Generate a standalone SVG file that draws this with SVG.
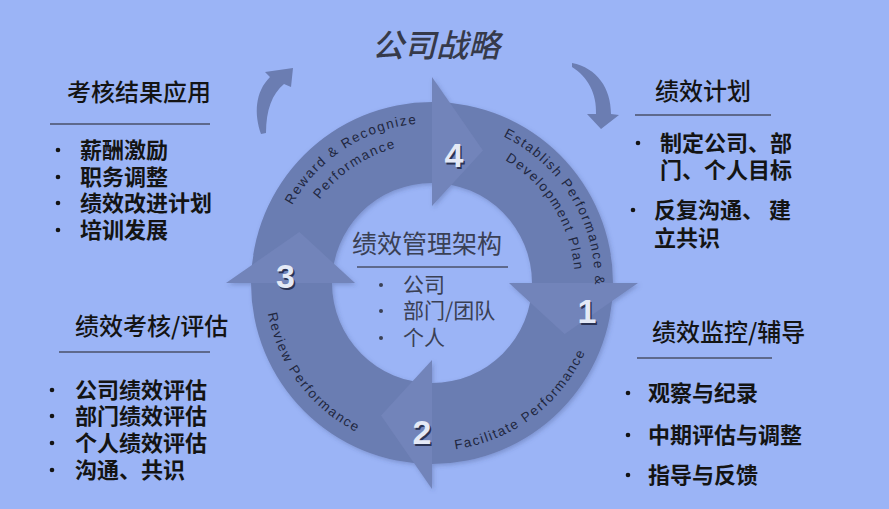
<svg xmlns="http://www.w3.org/2000/svg" width="889" height="509" viewBox="0 0 889 509">
<style>
.cjk{font-family:"Noto Sans CJK SC","Noto Sans CJK JP",sans-serif;fill:#141414}
.hd{font-size:24px;font-weight:500}
.it{font-size:22px;font-weight:700}
.ctr{fill:#3a4054}
.rule{stroke:#4a5068;stroke-width:1.5}
.dot{fill:#141414}
.seg{fill:#6b7db2}
.head{fill:#7284ba}
.lbl{font-family:"Liberation Sans",Arial,sans-serif;font-size:13.5px;letter-spacing:1.6px;fill:#1f2740}
.num{font-family:"Liberation Sans",Arial,sans-serif;font-size:34px;font-weight:700;text-anchor:middle}
.numsh{fill:#2a3354}
.numfg{fill:#e4e9f6}
.carrow{fill:#6b7db2}
</style>
<defs>
<filter id="sh" x="-10%" y="-10%" width="120%" height="120%">
<feDropShadow dx="1.5" dy="2" stdDeviation="2" flood-color="#34457a" flood-opacity="0.3"/>
</filter>
<path id="t4a" d="M279,236.2 A160,160 0 0 1 451.5,124.2"/>
<path id="t4b" d="M297.4,244.4 A140,140 0 0 1 446.6,143.8"/>
<path id="t1a" d="M483.7,128.4 A163,163 0 0 1 593.2,307.1"/>
<path id="t1b" d="M476.2,147 A143,143 0 0 1 573.6,302.9"/>
<path id="t2" d="M423.2,450.8 A168,168 0 0 0 595.7,320.8"/>
<path id="t3" d="M265.2,274.3 A167,167 0 0 0 394.4,445.7"/>
</defs>
<rect width="889" height="509" fill="#9bb4f6"/>

<g id="cycle" filter="url(#sh)">
<g id="seg2"><path class="seg" d="M613,283 A181,181 0 0 1 432,464 L432,383 A100,100 0 0 0 532,283 Z"/></g>
<g id="seg3"><path class="seg" d="M432,464 A181,181 0 0 1 251,283 L332,283 A100,100 0 0 0 432,383 Z"/></g>
<g id="seg4"><path class="seg" d="M251,283 A181,181 0 0 1 432,102 L432,183 A100,100 0 0 0 332,283 Z"/></g>
<g id="seg1"><path class="seg" d="M432,102 A181,181 0 0 1 613,283 L532,283 A100,100 0 0 0 432,183 Z"/></g>
<path class="head" d="M509,283 L638,283 L564.6,333.9 Z"/>
<path class="head" d="M432,360 L432,489 L381.1,415.6 Z"/>
<path class="head" d="M355,283 L226,283 L299.4,232.1 Z"/>
<path class="head" d="M432,206 L432,77 L482.9,150.4 Z"/>
</g>

<g id="cycle-labels">
<text class="lbl"><textPath href="#t4a" startOffset="50%" text-anchor="middle">Reward &amp; Recognize</textPath></text>
<text class="lbl"><textPath href="#t4b" startOffset="50%" text-anchor="middle">Performance</textPath></text>
<text class="lbl"><textPath href="#t1a" startOffset="50%" text-anchor="middle">Establish Performance &amp;</textPath></text>
<text class="lbl"><textPath href="#t1b" startOffset="50%" text-anchor="middle">Development Plan</textPath></text>
<text class="lbl"><textPath href="#t2" startOffset="50%" text-anchor="middle">Facilitate Performance</textPath></text>
<text class="lbl"><textPath href="#t3" startOffset="50%" text-anchor="middle">Review Performance</textPath></text>
</g>

<g id="numbers">
<text class="num numsh" x="455.5" y="168.5">4</text><text class="num numfg" x="454" y="167">4</text>
<text class="num numsh" x="588.5" y="324.5">1</text><text class="num numfg" x="587" y="323">1</text>
<text class="num numsh" x="423.5" y="445.5">2</text><text class="num numfg" x="422" y="444">2</text>
<text class="num numsh" x="287" y="289.5">3</text><text class="num numfg" x="285.5" y="288">3</text>
</g>

<g id="connectors">
<path class="carrow" d="M261,134 C254,114 255,92 270,77 L265,72 L293,68 L291,87 L284,84 C272,94 266,110 266,133 Z"/>
<path class="carrow" d="M572,63 C597,68 611,88 611,114 L619,115 L601,129 L587,114 L596,114 C597,94 588,77 572,67 Z"/>
</g>

<g id="title">
<text class="cjk" x="372" y="57" font-size="32" font-style="italic" font-weight="500" style="fill:#363a4a">公司战略</text>
</g>

<g id="center">
<text class="cjk ctr" x="352" y="253" font-size="25">绩效管理架构</text>
<line class="rule" x1="357" y1="267" x2="508" y2="267"/>
<circle cx="381" cy="285" r="2" fill="#3a4054"/>
<circle cx="381" cy="311" r="2" fill="#3a4054"/>
<circle cx="381" cy="338" r="2" fill="#3a4054"/>
<text class="cjk ctr" x="403" y="292" font-size="21">公司</text>
<text class="cjk ctr" x="403" y="318" font-size="21">部门/团队</text>
<text class="cjk ctr" x="403" y="345" font-size="21">个人</text>
</g>

<g id="panel-apply">
<text class="cjk hd" x="67" y="101">考核结果应用</text>
<line class="rule" x1="50" y1="124" x2="210" y2="124"/>
<circle class="dot" cx="58" cy="150" r="2.3"/>
<circle class="dot" cx="58" cy="177" r="2.3"/>
<circle class="dot" cx="58" cy="203" r="2.3"/>
<circle class="dot" cx="58" cy="230" r="2.3"/>
<text class="cjk it" x="80" y="158">薪酬激励</text>
<text class="cjk it" x="80" y="185">职务调整</text>
<text class="cjk it" x="80" y="211">绩效改进计划</text>
<text class="cjk it" x="80" y="238">培训发展</text>
</g>

<g id="panel-review">
<text class="cjk hd" x="75" y="335">绩效考核/评估</text>
<line class="rule" x1="59" y1="352" x2="210" y2="352"/>
<circle class="dot" cx="52" cy="390" r="2.3"/>
<circle class="dot" cx="52" cy="416" r="2.3"/>
<circle class="dot" cx="52" cy="443" r="2.3"/>
<circle class="dot" cx="52" cy="470" r="2.3"/>
<text class="cjk it" x="75" y="398">公司绩效评估</text>
<text class="cjk it" x="75" y="424">部门绩效评估</text>
<text class="cjk it" x="75" y="451">个人绩效评估</text>
<text class="cjk it" x="75" y="478">沟通、共识</text>
</g>

<g id="panel-plan">
<text class="cjk hd" x="655" y="100">绩效计划</text>
<line class="rule" x1="635" y1="115" x2="771" y2="115"/>
<circle class="dot" cx="638" cy="143" r="2.3"/>
<circle class="dot" cx="633" cy="210" r="2.3"/>
<text class="cjk it" x="660" y="151">制定公司、部</text>
<text class="cjk it" x="660" y="178">门、个人目标</text>
<text class="cjk it" x="654" y="218">反复沟通、 建</text>
<text class="cjk it" x="654" y="246">立共识</text>
</g>

<g id="panel-monitor">
<text class="cjk hd" x="652" y="341">绩效监控/辅导</text>
<line class="rule" x1="637" y1="358" x2="772" y2="358"/>
<circle class="dot" cx="628" cy="393" r="2.3"/>
<circle class="dot" cx="628" cy="435" r="2.3"/>
<circle class="dot" cx="628" cy="475" r="2.3"/>
<text class="cjk it" x="648" y="401">观察与纪录</text>
<text class="cjk it" x="648" y="443">中期评估与调整</text>
<text class="cjk it" x="648" y="483">指导与反馈</text>
</g>
</svg>
